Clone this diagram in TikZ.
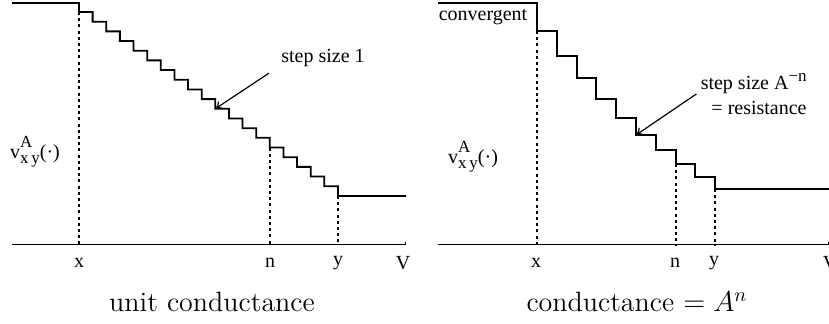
\documentclass[tikz,border=0pt]{standalone}
\usepackage{fontspec}
\newfontfamily\labfont{Liberation Serif}
\usetikzlibrary{arrows.meta,calc}
\newcommand\labsub[1]{{\fontsize{8.5}{9}\selectfont #1}}
\newcommand\vlab{v\makebox[0pt][l]{\raisebox{5.2pt}{\labsub{A}}}\raisebox{-2.6pt}{\labsub{x\,y}}(·)}
\tikzset{
    stair/.style={line width=0.9pt, line join=miter},
    axis/.style={line width=0.5pt},
    guide/.style={line width=0.9pt, dash pattern=on 1.5pt off 1.6pt},
    pointer/.style={-{To[length=3.5pt,width=4.5pt]}, line width=0.6pt},
    tick/.style={font=\labfont\fontsize{10}{12.5}\selectfont, inner sep=1pt},
    caption/.style={font=\fontsize{14}{16}\selectfont, inner sep=1pt}
}
\begin{document}
\begin{tikzpicture}[x=0.5pt,y=-0.5pt]
  \useasboundingbox (0,0) rectangle (829,324);

  % left: unit conductance
  \draw[axis] (12,245) coordinate (oL) -- (405,245) coordinate (eL) -- ++(0,-3);
  \draw[stair] (12,3) -- (79,3) -- (79,12) coordinate (l0)
    \foreach \i in {1,...,19} { -- ++(13.63,0) -- ++(0,9.68) coordinate (l\i) }
    -- (406,196);
  \foreach \k in {0,14,19}
    \draw[guide] (l\k) -- (l\k |- oL);
  \node[tick] (xL) at (79,263) {x};
  \node[tick] (nL) at (270,263) {n};
  \node[tick] (yL) at (338,263) {y};
  \node[tick] (VL) at (403,263) {V};
  \node[tick] (vL) at (35,152) {\vlab};
  \node[tick] (stepL) at (323,58) {step size 1};
  \draw[pointer] ($(stepL.south west)+(-10,4)$) -- (l10);
  \node[caption] (capL) at (212,302) {unit conductance};

  % right: conductance A^n
  \draw[axis] (438,245) coordinate (oR) -- (828,245) coordinate (eR) -- ++(0,-3);
  \draw[stair] (438,3) -- (537,3) -- (537,31) coordinate (r0)
    \foreach \xx/\yy [count=\i] in {557/56, 577/78, 596/99, 616/118, 636/135,
                                    656/150, 676/164, 695/177, 715/189}
      { -| (\xx,\yy) coordinate (r\i) }
    -- (835,189);
  \foreach \k in {0,7,9}
    \draw[guide] (r\k) -- (r\k |- oR);
  \node[tick] (xR) at (536,263) {x};
  \node[tick] (nR) at (675,263) {n};
  \node[tick] (yR) at (714,263) {y};
  \node[tick] (VR) at (830,263) {V};
  \node[tick] (vR) at (473,157) {\vlab};
  \node[tick] (conv) at (483,17) {convergent};
  \node[tick, align=right, anchor=east] (stepR) at (809,94)
    {step size A\raisebox{0.9ex}{\fontsize{8.5}{9}\selectfont −n}\\= resistance};
  \draw[pointer] ($(stepR.west)+(-2,0)$) -- (r5);
  \node[caption] (capR) at (637,302) {conductance $=A^n$};
\end{tikzpicture}
\end{document}
